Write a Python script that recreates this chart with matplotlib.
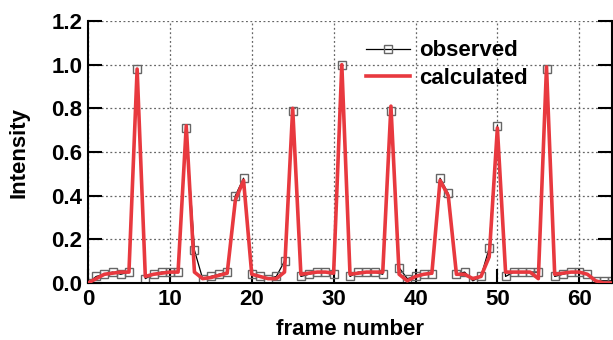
import matplotlib
matplotlib.use("Agg")
import matplotlib.pyplot as plt
import numpy as np

frames = list(range(0, 65))
observed = [0.00, 0.03, 0.04, 0.05, 0.04, 0.05, 0.98, 0.02, 0.04, 0.05,
            0.05, 0.05, 0.71, 0.15, 0.02, 0.03, 0.04, 0.05, 0.40, 0.48,
            0.04, 0.03, 0.02, 0.03, 0.10, 0.79, 0.03, 0.04, 0.05, 0.05,
            0.04, 1.00, 0.03, 0.05, 0.05, 0.05, 0.04, 0.79, 0.07, 0.02,
            0.03, 0.04, 0.04, 0.48, 0.41, 0.04, 0.05, 0.01, 0.03, 0.16,
            0.72, 0.03, 0.05, 0.05, 0.05, 0.05, 0.98, 0.03, 0.04, 0.05,
            0.05, 0.04, 0.01, 0.01, 0.01]
calculated = [0.00, 0.02, 0.04, 0.045, 0.05, 0.05, 0.98, 0.03, 0.04, 0.045,
              0.05, 0.05, 0.72, 0.05, 0.02, 0.025, 0.035, 0.045, 0.38, 0.47,
              0.04, 0.03, 0.02, 0.02, 0.05, 0.80, 0.04, 0.045, 0.05, 0.05,
              0.045, 1.00, 0.04, 0.045, 0.05, 0.05, 0.05, 0.81, 0.04, 0.01,
              0.03, 0.04, 0.045, 0.47, 0.40, 0.04, 0.04, 0.02, 0.03, 0.12,
              0.71, 0.05, 0.05, 0.05, 0.05, 0.02, 0.99, 0.04, 0.045, 0.05,
              0.05, 0.04, 0.01, 0.00, 0.00]

plt.rcParams['font.family'] = ['Liberation Sans', 'DejaVu Sans']
plt.rcParams['font.weight'] = 'bold'

fig = plt.figure(figsize=(6.13, 3.40), dpi=100)
ax = fig.add_axes([88/613, 1-283/340, (612-88)/613, (283-21)/340])

ax.plot(frames, observed, color='black', lw=0.9, marker='s', ms=5.5,
        mfc='none', mec='#666666', mew=1.0, label='observed', zorder=2)
ax.plot(frames, calculated, color='#E8393F', lw=2.6, label='calculated', zorder=3)

ax.set_xlim(0, 64)
ax.set_ylim(0, 1.2)
ax.set_xticks([0, 10, 20, 30, 40, 50, 60])
ax.set_yticks([0.0, 0.2, 0.4, 0.6, 0.8, 1.0, 1.2])
ax.set_yticklabels(['0.0', '0.2', '0.4', '0.6', '0.8', '1.0', '1.2'])
ax.tick_params(direction='in', length=10, width=1.5, labelsize=16,
               right=True, top=False, pad=4)
for lab in ax.get_xticklabels() + ax.get_yticklabels():
    lab.set_fontweight('bold')
ax.grid(True, color='#666666', ls=(0, (1.5, 2)), lw=0.9)
ax.spines['top'].set_visible(False)
for s in ['left', 'bottom', 'right']:
    ax.spines[s].set_linewidth(1.5)

ax.set_xlabel('frame number', fontsize=16, fontweight='bold', labelpad=7)
ax.set_ylabel('Intensity', fontsize=16, fontweight='bold', labelpad=16)

leg = ax.legend(loc='upper left', bbox_to_anchor=(0.513, 0.96), frameon=False,
                prop={'size': 16, 'weight': 'bold'}, handlelength=2.0,
                borderaxespad=0, labelspacing=0.3, handletextpad=0.4)

fig.savefig('out.png', dpi=100)
